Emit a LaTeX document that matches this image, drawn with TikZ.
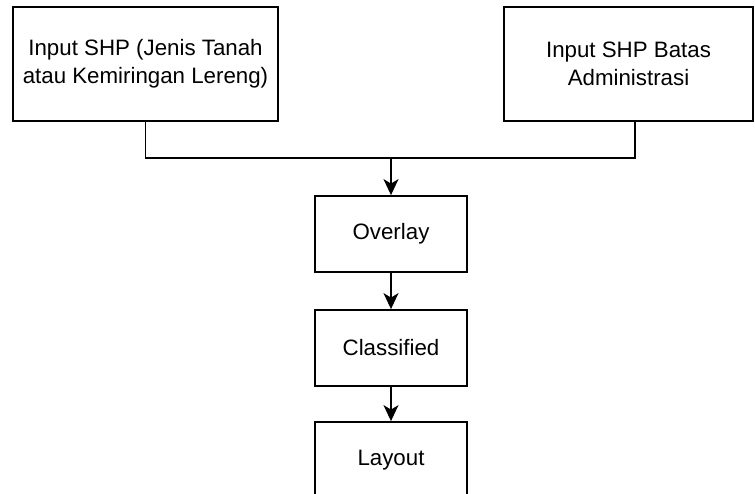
\documentclass[tikz,border=0pt]{standalone}
\usepackage{fontspec}
\setmainfont{Liberation Sans}
\usetikzlibrary{arrows.meta}
\begin{document}
\begin{tikzpicture}[x=1pt,y=-1pt,
  box/.style={draw=black, line width=1.8pt, fill=white, inner sep=0pt,
    align=center, font=\fontsize{22.3}{28}\selectfont},
  link/.style={line width=1.8pt, draw=black},
  flow/.style={link, -{Stealth[length=16pt,width=15pt,inset=4.5pt]}}]
\useasboundingbox (0,0) rectangle (755,493);
% input layers
\node[box, minimum width=265pt, minimum height=114pt] (soil) at (145.5,64)
  {Input SHP (Jenis Tanah\\atau Kemiringan Lereng)};
\node[box, minimum width=249pt, minimum height=114pt] (admin) at (628.5,64)
  {Input SHP Batas\\Administrasi};
% processing chain
\node[box, minimum width=152pt, minimum height=76pt] (overlay) at (391,234) {Overlay};
\node[box, minimum width=152pt, minimum height=76pt] (classified) at (391,348) {Classified};
\node[box, minimum width=152pt, minimum height=76pt] (layout) at (391,460) {Layout};
% merge of the two inputs
\coordinate (join) at (391,158);
\coordinate (adminout) at ([xshift=6.5pt]admin.south);
\draw[link] (soil.south) -- (soil.south |- join) -- (adminout |- join) -- (adminout);
\draw[flow] (join) -- (overlay.north);
\draw[flow] (overlay.south) -- (classified.north);
\draw[flow] (classified.south) -- (layout.north);
\end{tikzpicture}
\end{document}
